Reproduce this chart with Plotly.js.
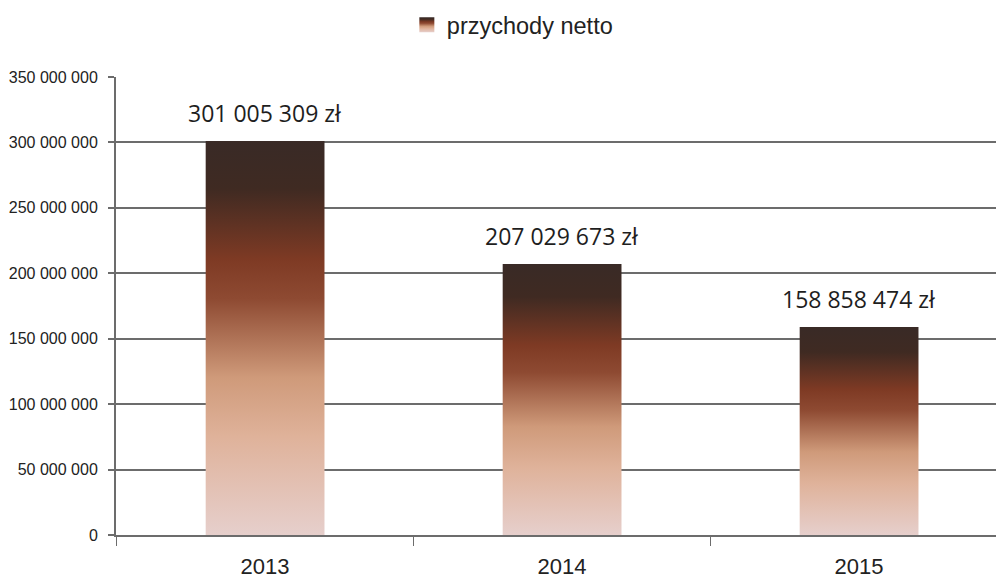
<!DOCTYPE html>
<html>
<head>
<meta charset="utf-8">
<script src="https://cdn.plot.ly/plotly-3.0.1.min.js"></script>
<style>
  html, body { margin: 0; padding: 0; background: #ffffff; }
  #chart { width: 996px; height: 581px; }
</style>
</head>
<body>
<div id="chart"></div>
<script>
// ---- data ----
const years = ['2013', '2014', '2015'];
const revenue = [301005309, 207029673, 158858474];
const seriesName = 'przychody netto';
const currency = 'zł';
const yTicks = [0, 50000000, 100000000, 150000000, 200000000, 250000000, 300000000, 350000000];

function fmtPL(v) {
  return String(v).replace(/\B(?=(\d{3})+(?!\d))/g, ' ');
}

const gridColor = '#6c6c6c';

const trace = {
  type: 'bar',
  x: years,
  y: revenue,
  name: seriesName,
  width: 0.4,
  marker: { color: '#8a3f26', line: { width: 0 } },
  hoverinfo: 'none',
  showlegend: true
};

const annotations = years.map((yr, i) => ({
  x: i,
  y: revenue[i],
  xref: 'x',
  yref: 'y',
  text: fmtPL(revenue[i]) + ' ' + currency,
  showarrow: false,
  xanchor: 'center',
  yanchor: 'middle',
  yshift: 28,
  font: { family: 'Open Sans, sans-serif', size: 23, color: '#1e1e1e' }
}));

const layout = {
  width: 996,
  height: 581,
  margin: { l: 116, r: 0, t: 77, b: 46 },
  paper_bgcolor: '#ffffff',
  plot_bgcolor: '#ffffff',
  separators: ', ',
  showlegend: true,
  legend: {
    orientation: 'h',
    x: 0.3305, xanchor: 'left',
    y: 1.1135, yanchor: 'middle',
    font: { family: 'Liberation Sans, Arial, sans-serif', size: 23.5, color: '#222222' },
    itemwidth: 30
  },
  xaxis: {
    type: 'category',
    range: [-0.502, 2.461],
    showgrid: false,
    showline: true,
    linecolor: gridColor,
    linewidth: 1.5,
    tickson: 'boundaries',
    ticks: 'outside',
    ticklen: 9,
    tickwidth: 1.5,
    tickcolor: gridColor,
    ticklabelstandoff: 11,
    tickfont: { family: 'Liberation Sans, Arial, sans-serif', size: 22, color: '#222222' },
    zeroline: false,
    fixedrange: true
  },
  yaxis: {
    range: [0, 350000000],
    tickvals: yTicks,
    tickformat: ',.0f',
    showgrid: true,
    gridcolor: gridColor,
    gridwidth: 2,
    showline: true,
    linecolor: gridColor,
    linewidth: 2,
    ticks: 'outside',
    ticklen: 6,
    tickwidth: 2,
    tickcolor: gridColor,
    ticklabelstandoff: 7,
    tickfont: { family: 'Liberation Sans, Arial, sans-serif', size: 16, color: '#222222' },
    zeroline: false,
    fixedrange: true
  },
  annotations: annotations
};

function applyGradient(gd) {
  const svg = gd.querySelector('svg.main-svg');
  if (!svg) return;
  let defs = svg.querySelector('defs');
  if (!defs) {
    defs = document.createElementNS('http://www.w3.org/2000/svg', 'defs');
    svg.insertBefore(defs, svg.firstChild);
  }
  if (!document.getElementById('barGrad')) {
    const g = document.createElementNS('http://www.w3.org/2000/svg', 'linearGradient');
    g.setAttribute('id', 'barGrad');
    g.setAttribute('x1', '0'); g.setAttribute('y1', '0');
    g.setAttribute('x2', '0'); g.setAttribute('y2', '1');
    const stops = [
      [0, '#392a26'], [0.12, '#3f2a22'], [0.3, '#7e3a24'], [0.4, '#8e4a32'],
      [0.6, '#cf9a7a'], [0.75, '#dfb29a'], [0.88, '#e3c1b4'], [1, '#e6cfcc']
    ];
    stops.forEach(s => {
      const st = document.createElementNS('http://www.w3.org/2000/svg', 'stop');
      st.setAttribute('offset', s[0]);
      st.setAttribute('stop-color', s[1]);
      g.appendChild(st);
    });
    defs.appendChild(g);
  }
  gd.querySelectorAll('.trace.bars .point path').forEach(p => { p.style.fill = 'url(#barGrad)'; });
  gd.querySelectorAll('.legendpoints path').forEach(p => {
    p.setAttribute('d', 'M7.5,7.5H-7.5V-7.5H7.5Z');
    p.style.fill = 'url(#barGrad)';
  });
}

const gd = document.getElementById('chart');
Plotly.newPlot(gd, [trace], layout, { displayModeBar: false, staticPlot: true }).then(() => applyGradient(gd));
</script>
</body>
</html>
